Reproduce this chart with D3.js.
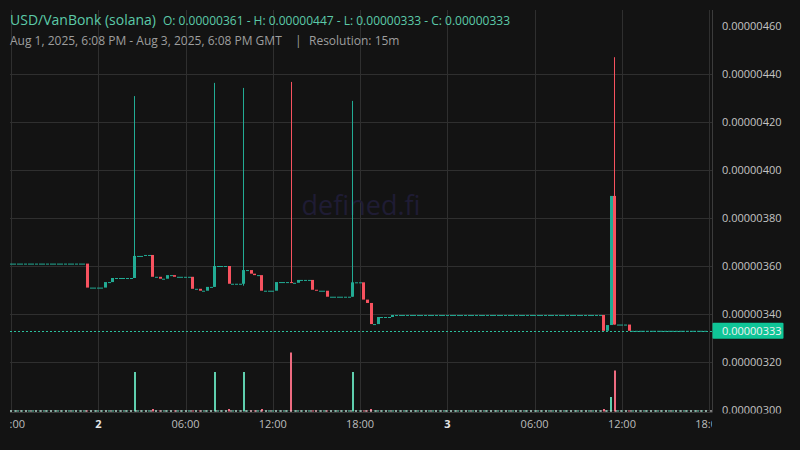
<!DOCTYPE html>
<html><head><meta charset="utf-8">
<script src="https://cdn.jsdelivr.net/npm/d3@7"></script>
<style>html,body{margin:0;padding:0;background:#131313;}svg{display:block;}</style>
</head><body>
<svg id="c" width="800" height="450"></svg>
<script>
// ---- DATA (prices in units of 1e-8 USD) ----
const titleText = "USD/VanBonk (solana)";
const ohlcText = "O: 0.00000361 - H: 0.00000447 - L: 0.00000333 - C: 0.00000333";
const rangeText = "Aug 1, 2025, 6:08 PM - Aug 3, 2025, 6:08 PM GMT";
const resolutionText = "Resolution: 15m";
const priceTicks = [300, 320, 340, 360, 380, 400, 420, 440, 460];
const lastPrice = 333;

// 15-minute slots with trades
const barIndex = [21,26,28,34,37,39,41,43,45,50,52,54,56,60,64,66,67,69,73,77,79,83,84,87,94,97,98,99,101,105,163,164,165,166,170];
const barOpen  = [361,351,353.3,355,364.2,364.6,355.5,354.7,356.2,355.5,350.5,349.7,351.3,360,352.6,358.3,356.8,356.2,349.7,353.3,353,354.2,350.1,349.7,347.2,353.2,346,344.6,335.8,338.75,339.6,333,335.4,389.2,335.6];
const barHigh  = [361,353.3,355,430.8,364.6,364.6,355.5,356.2,356.2,355.5,350.5,351.3,436.3,360,434.2,358.3,356.8,356.2,353.3,436.7,354.2,354.2,350.1,349.7,428.8,353.2,346,344.6,338.75,339.6,339.6,335.4,389.2,447,335.6];
const barLow   = [351,351,353.3,355,364.2,355.5,354.7,354.7,355.5,350.5,349.7,349.7,351.3,352.6,351.8,356.8,356.2,349.7,349.7,353,353,350.1,349.7,347.2,347.2,346,344.6,335.8,335.8,338.75,333,333,335.4,335.6,333];
const barClose = [351,353.3,355,364.2,364.6,355.5,354.7,356.2,355.5,350.5,349.7,351.3,360,352.6,358.3,356.8,356.2,349.7,353.3,353,354.2,350.1,349.7,347.2,353.2,346,344.6,335.8,338.75,339.6,333,335.4,389.2,335.6,333];
const barVolume= [8,8,8,395,8,25,8,8,8,8,8,8,395,25,395,8,8,25,8,590,8,8,8,8,395,8,8,25,8,8,25,8,145,410,8];

// runs of quiet 15-minute slots: [firstSlot, lastSlot, price, volume]
const quietRuns = [
  [0,20,361,4],[22,25,351,4],[27,27,353.3,4],[29,33,355,4],[35,36,364.2,4],[38,38,364.6,4],
  [40,40,355.5,4],[42,42,354.7,4],[44,44,356.2,4],[46,49,355.5,4],[51,51,350.5,4],[53,53,349.7,4],
  [55,55,351.3,4],[57,59,360,4],[61,63,352.6,4],[65,65,358.3,4],[68,68,356.2,4],[70,72,349.7,4],
  [74,76,353.3,4],[78,78,353,4],[80,82,354.2,4],[85,86,349.7,4],[88,93,347.2,4],[95,96,353.2,4],
  [100,100,335.8,4],[102,104,338.75,4],[106,162,339.6,4],[167,169,335.6,4],[171,191,333,4]
];

// ---- BUILD ----
const UNIT = 1e-8;
const T0 = Date.UTC(2025, 7, 1, 18, 0);
const SLOT = 15 * 60 * 1000;
const candles = [];
barIndex.forEach((s, k) => candles.push({slot: s, o: barOpen[k], h: barHigh[k], l: barLow[k], c: barClose[k], v: barVolume[k]}));
quietRuns.forEach(([a, b, p, v]) => { for (let s = a; s <= b; s++) candles.push({slot: s, o: p, h: p, l: p, c: p, v: v}); });
candles.sort((a, b) => a.slot - b.slot);
candles.forEach(d => d.t = new Date(T0 + d.slot * SLOT));

const svg = d3.select("#c");
const W = 800, H = 450;
const plotL = 10, plotR = 712, plotT = 10, plotB = 412.5;

const x = d3.scaleUtc().domain([new Date(T0), new Date(T0 + 48 * 3600e3)]).range([11, 709.2]);
const y = d3.scaleLinear().domain([300 * UNIT, 460 * UNIT]).range([410, 26]);
const yv = d3.scaleLinear().domain([0, 600]).range([411.5, 351.5]);

const up = "#22ab94", down = "#f7525f";
const upVol = "#5fcfae", downVol = "#ee6b80";

svg.append("rect").attr("width", W).attr("height", H).attr("fill", "#131313");

const defs = svg.append("defs");
defs.append("clipPath").attr("id", "plotclip").append("rect").attr("x", plotL).attr("y", plotT).attr("width", plotR - plotL).attr("height", plotB - plotT + 1);
defs.append("clipPath").attr("id", "timeclip").append("rect").attr("x", plotL).attr("y", plotB).attr("width", plotR - plotL).attr("height", 40);
defs.append("clipPath").attr("id", "priceclip").append("rect").attr("x", plotR).attr("y", 0).attr("width", 88).attr("height", 413.5);

// grid
const timeTicks = x.ticks(d3.utcHour.every(6));
const grid = svg.append("g");
grid.selectAll("line.v").data(timeTicks).join("line")
  .attr("x1", d => Math.round(x(d)) + 0.5).attr("x2", d => Math.round(x(d)) + 0.5)
  .attr("y1", plotT).attr("y2", plotB).attr("stroke", "#2f2f2f").attr("stroke-width", 1);
grid.selectAll("line.h").data(priceTicks.filter(p => p < 460)).join("line")
  .attr("x1", plotL).attr("x2", plotR)
  .attr("y1", d => Math.round(y(d * UNIT)) + 0.5).attr("y2", d => Math.round(y(d * UNIT)) + 0.5)
  .attr("stroke", "#2f2f2f").attr("stroke-width", 1);
svg.append("line").attr("x1", plotL).attr("x2", plotR).attr("y1", plotB).attr("y2", plotB).attr("stroke", "#3a3a3a");

// watermark
svg.append("text").attr("x", 361).attr("y", 215).attr("text-anchor", "middle")
  .attr("font-family", "Open Sans, sans-serif").attr("font-size", 27).attr("fill", "#1f1c34").text("defined.fi");

const plot = svg.append("g").attr("clip-path", "url(#plotclip)");

// volume
plot.append("g").selectAll("rect").data(candles).join("rect")
  .attr("x", d => Math.round(x(d.t)) - 1).attr("width", 2)
  .attr("y", d => Math.min(yv(d.v), 410.5)).attr("height", d => Math.max(411.5 - yv(d.v), 1))
  .attr("fill", d => d.c < d.o ? downVol : upVol);
plot.append("line").attr("x1", plotL).attr("x2", plotR).attr("y1", 411).attr("y2", 411)
  .attr("stroke", "#d8d8d8").attr("stroke-width", 1).attr("stroke-dasharray", "2,3");

// last price line
plot.append("line").attr("x1", plotL).attr("x2", plotR)
  .attr("y1", Math.round(y(lastPrice * UNIT)) + 0.5).attr("y2", Math.round(y(lastPrice * UNIT)) + 0.5)
  .attr("stroke", "#2bbf9c").attr("stroke-width", 1).attr("stroke-dasharray", "2,2");

// candles
const cg = plot.append("g");
cg.selectAll("rect.w").data(candles.filter(d => d.h > Math.max(d.o, d.c) || d.l < Math.min(d.o, d.c))).join("rect")
  .attr("x", d => Math.round(x(d.t) - 1.5) + 1).attr("width", 1)
  .attr("y", d => y(d.h * UNIT)).attr("height", d => y(d.l * UNIT) - y(d.h * UNIT))
  .attr("fill", d => d.c < d.o ? down : up);
cg.selectAll("rect.b").data(candles).join("rect")
  .attr("x", d => Math.round(x(d.t) - 1.5)).attr("width", 3)
  .attr("y", d => y(Math.max(d.o, d.c) * UNIT))
  .attr("height", d => Math.max(y(Math.min(d.o, d.c) * UNIT) - y(Math.max(d.o, d.c) * UNIT), 1))
  .attr("fill", d => d.c < d.o ? down : up);

// right axis
svg.append("line").attr("x1", plotR + 0.5).attr("x2", plotR + 0.5).attr("y1", plotT).attr("y2", plotB).attr("stroke", "#3c3c3c");
const yAxis = svg.append("g").attr("clip-path", "url(#priceclip)");
yAxis.selectAll("text").data(priceTicks).join("text")
  .attr("x", 722).attr("y", d => y(d * UNIT)).attr("dy", "0.35em")
  .attr("font-family", "Open Sans, sans-serif").attr("font-size", 11).attr("fill", "#c4c4c4")
  .text(d => (d * UNIT).toFixed(8));
const ly = y(lastPrice * UNIT);
svg.append("rect").attr("x", plotR + 0.5).attr("y", ly - 8).attr("width", 71).attr("height", 16).attr("rx", 1).attr("fill", "#0fc597");
svg.append("text").attr("x", 722).attr("y", ly).attr("dy", "0.35em")
  .attr("font-family", "Open Sans, sans-serif").attr("font-size", 11).attr("fill", "#f2f2f2")
  .text((lastPrice * UNIT).toFixed(8));

// time axis
const xAxis = svg.append("g").attr("clip-path", "url(#timeclip)");
xAxis.selectAll("text").data(timeTicks).join("text")
  .attr("x", d => x(d)).attr("y", 428).attr("text-anchor", "middle")
  .attr("font-family", "Open Sans, sans-serif").attr("font-size", 11)
  .attr("font-weight", d => d.getUTCHours() === 0 ? 700 : 400)
  .attr("fill", d => d.getUTCHours() === 0 ? "#e6e6e6" : "#bdbdbd")
  .text(d => d.getUTCHours() === 0 ? String(d.getUTCDate()) : d3.utcFormat("%H:%M")(d));

// header
svg.append("text").attr("x", 10).attr("y", 25).attr("font-family", "Open Sans, sans-serif")
  .attr("font-size", 14).attr("fill", "#5ccaa9").text(titleText);
svg.append("text").attr("x", 163).attr("y", 25).attr("font-family", "Open Sans, sans-serif")
  .attr("font-size", 12).attr("fill", "#5ccaa9").text(ohlcText);
svg.append("text").attr("x", 10).attr("y", 45).attr("font-family", "Open Sans, sans-serif")
  .attr("font-size", 12).attr("fill", "#9e9e9e").text(rangeText);
svg.append("text").attr("x", 295).attr("y", 45).attr("font-family", "Open Sans, sans-serif")
  .attr("font-size", 12).attr("fill", "#9e9e9e").text("|");
svg.append("text").attr("x", 309).attr("y", 45).attr("font-family", "Open Sans, sans-serif")
  .attr("font-size", 12).attr("fill", "#9e9e9e").text(resolutionText);
</script>
</body></html>
